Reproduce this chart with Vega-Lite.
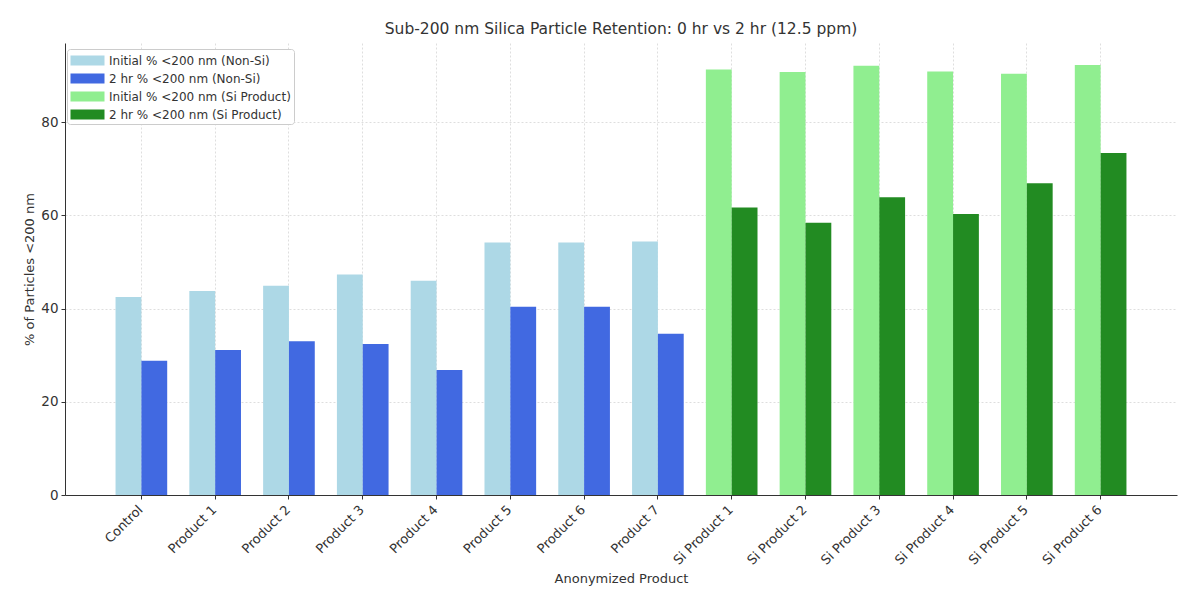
{
  "$schema": "https://vega.github.io/schema/vega-lite/v6.json",
  "width": 1112,
  "height": 452,
  "autosize": {"type": "none"},
  "padding": {"left": 65, "top": 43, "right": 3, "bottom": 105},
  "background": "white",
  "title": {
    "text": "Sub-200 nm Silica Particle Retention: 0 hr vs 2 hr (12.5 ppm)",
    "font": "DejaVu Sans",
    "fontSize": 15.5,
    "fontWeight": "normal",
    "color": "#333333",
    "anchor": "middle",
    "offset": 6
  },
  "config": {
    "font": "DejaVu Sans",
    "view": {"stroke": null},
    "axis": {
      "labelFont": "DejaVu Sans",
      "titleFont": "DejaVu Sans",
      "labelColor": "#333333",
      "titleColor": "#333333",
      "titleFontWeight": "normal",
      "domainColor": "#333333",
      "tickColor": "#333333",
      "gridColor": "#d6d6d6",
      "gridDash": [2, 2],
      "gridWidth": 0.8
    }
  },
  "data": {
    "values": [
      {"product": "Control", "time": "Initial", "series": "Initial % <200 nm (Non-Si)", "value": 42.5},
      {"product": "Control", "time": "2 hr", "series": "2 hr % <200 nm (Non-Si)", "value": 28.8},
      {"product": "Product 1", "time": "Initial", "series": "Initial % <200 nm (Non-Si)", "value": 43.8},
      {"product": "Product 1", "time": "2 hr", "series": "2 hr % <200 nm (Non-Si)", "value": 31.1},
      {"product": "Product 2", "time": "Initial", "series": "Initial % <200 nm (Non-Si)", "value": 44.9},
      {"product": "Product 2", "time": "2 hr", "series": "2 hr % <200 nm (Non-Si)", "value": 33.0},
      {"product": "Product 3", "time": "Initial", "series": "Initial % <200 nm (Non-Si)", "value": 47.3},
      {"product": "Product 3", "time": "2 hr", "series": "2 hr % <200 nm (Non-Si)", "value": 32.4},
      {"product": "Product 4", "time": "Initial", "series": "Initial % <200 nm (Non-Si)", "value": 46.0},
      {"product": "Product 4", "time": "2 hr", "series": "2 hr % <200 nm (Non-Si)", "value": 26.8},
      {"product": "Product 5", "time": "Initial", "series": "Initial % <200 nm (Non-Si)", "value": 54.2},
      {"product": "Product 5", "time": "2 hr", "series": "2 hr % <200 nm (Non-Si)", "value": 40.4},
      {"product": "Product 6", "time": "Initial", "series": "Initial % <200 nm (Non-Si)", "value": 54.2},
      {"product": "Product 6", "time": "2 hr", "series": "2 hr % <200 nm (Non-Si)", "value": 40.4},
      {"product": "Product 7", "time": "Initial", "series": "Initial % <200 nm (Non-Si)", "value": 54.4},
      {"product": "Product 7", "time": "2 hr", "series": "2 hr % <200 nm (Non-Si)", "value": 34.6},
      {"product": "Si Product 1", "time": "Initial", "series": "Initial % <200 nm (Si Product)", "value": 91.3},
      {"product": "Si Product 1", "time": "2 hr", "series": "2 hr % <200 nm (Si Product)", "value": 61.7},
      {"product": "Si Product 2", "time": "Initial", "series": "Initial % <200 nm (Si Product)", "value": 90.8},
      {"product": "Si Product 2", "time": "2 hr", "series": "2 hr % <200 nm (Si Product)", "value": 58.4},
      {"product": "Si Product 3", "time": "Initial", "series": "Initial % <200 nm (Si Product)", "value": 92.1},
      {"product": "Si Product 3", "time": "2 hr", "series": "2 hr % <200 nm (Si Product)", "value": 63.9},
      {"product": "Si Product 4", "time": "Initial", "series": "Initial % <200 nm (Si Product)", "value": 90.9},
      {"product": "Si Product 4", "time": "2 hr", "series": "2 hr % <200 nm (Si Product)", "value": 60.3},
      {"product": "Si Product 5", "time": "Initial", "series": "Initial % <200 nm (Si Product)", "value": 90.4},
      {"product": "Si Product 5", "time": "2 hr", "series": "2 hr % <200 nm (Si Product)", "value": 66.9},
      {"product": "Si Product 6", "time": "Initial", "series": "Initial % <200 nm (Si Product)", "value": 92.3},
      {"product": "Si Product 6", "time": "2 hr", "series": "2 hr % <200 nm (Si Product)", "value": 73.4}
    ]
  },
  "mark": {"type": "bar"},
  "encoding": {
    "x": {
      "field": "product",
      "type": "nominal",
      "sort": null,
      "scale": {"paddingInner": 0.3, "paddingOuter": 0.685},
      "axis": {
        "title": "Anonymized Product",
        "titleFontSize": 13,
        "titlePadding": 5,
        "labelFontSize": 13,
        "labelAngle": -45,
        "labelPadding": 4,
        "labelOffset": -5,
        "tickSize": 4,
        "grid": true,
        "bandPosition": 0.5
      }
    },
    "xOffset": {
      "field": "time",
      "type": "nominal",
      "sort": ["Initial", "2 hr"],
      "scale": {"domain": ["Initial", "2 hr"], "paddingInner": 0, "paddingOuter": 0}
    },
    "y": {
      "field": "value",
      "type": "quantitative",
      "scale": {"domain": [0, 97], "nice": false, "zero": true},
      "axis": {
        "title": "% of Particles <200 nm",
        "titleFontSize": 13,
        "titlePadding": 4,
        "labelFontSize": 13.5,
        "values": [0, 20, 40, 60, 80],
        "tickSize": 4,
        "labelPadding": 3,
        "grid": true
      }
    },
    "color": {
      "field": "series",
      "type": "nominal",
      "scale": {
        "domain": [
          "Initial % <200 nm (Non-Si)",
          "2 hr % <200 nm (Non-Si)",
          "Initial % <200 nm (Si Product)",
          "2 hr % <200 nm (Si Product)"
        ],
        "range": ["#ADD8E6", "#4169E1", "#90EE90", "#228B22"]
      },
      "legend": {
        "title": null,
        "orient": "none",
        "legendX": 2,
        "legendY": 6,
        "labelFont": "DejaVu Sans",
        "labelFontSize": 12,
        "labelColor": "#333333",
        "labelLimit": 400,
        "symbolType": "M-2,-0.6H2V0.6H-2Z",
        "symbolSize": 289,
        "symbolOffset": 9,
        "symbolStrokeWidth": 0,
        "symbolOpacity": 1,
        "rowPadding": 3,
        "labelOffset": 13,
        "padding": 3,
        "fillColor": "white",
        "strokeColor": "#cccccc",
        "cornerRadius": 3
      }
    }
  }
}
